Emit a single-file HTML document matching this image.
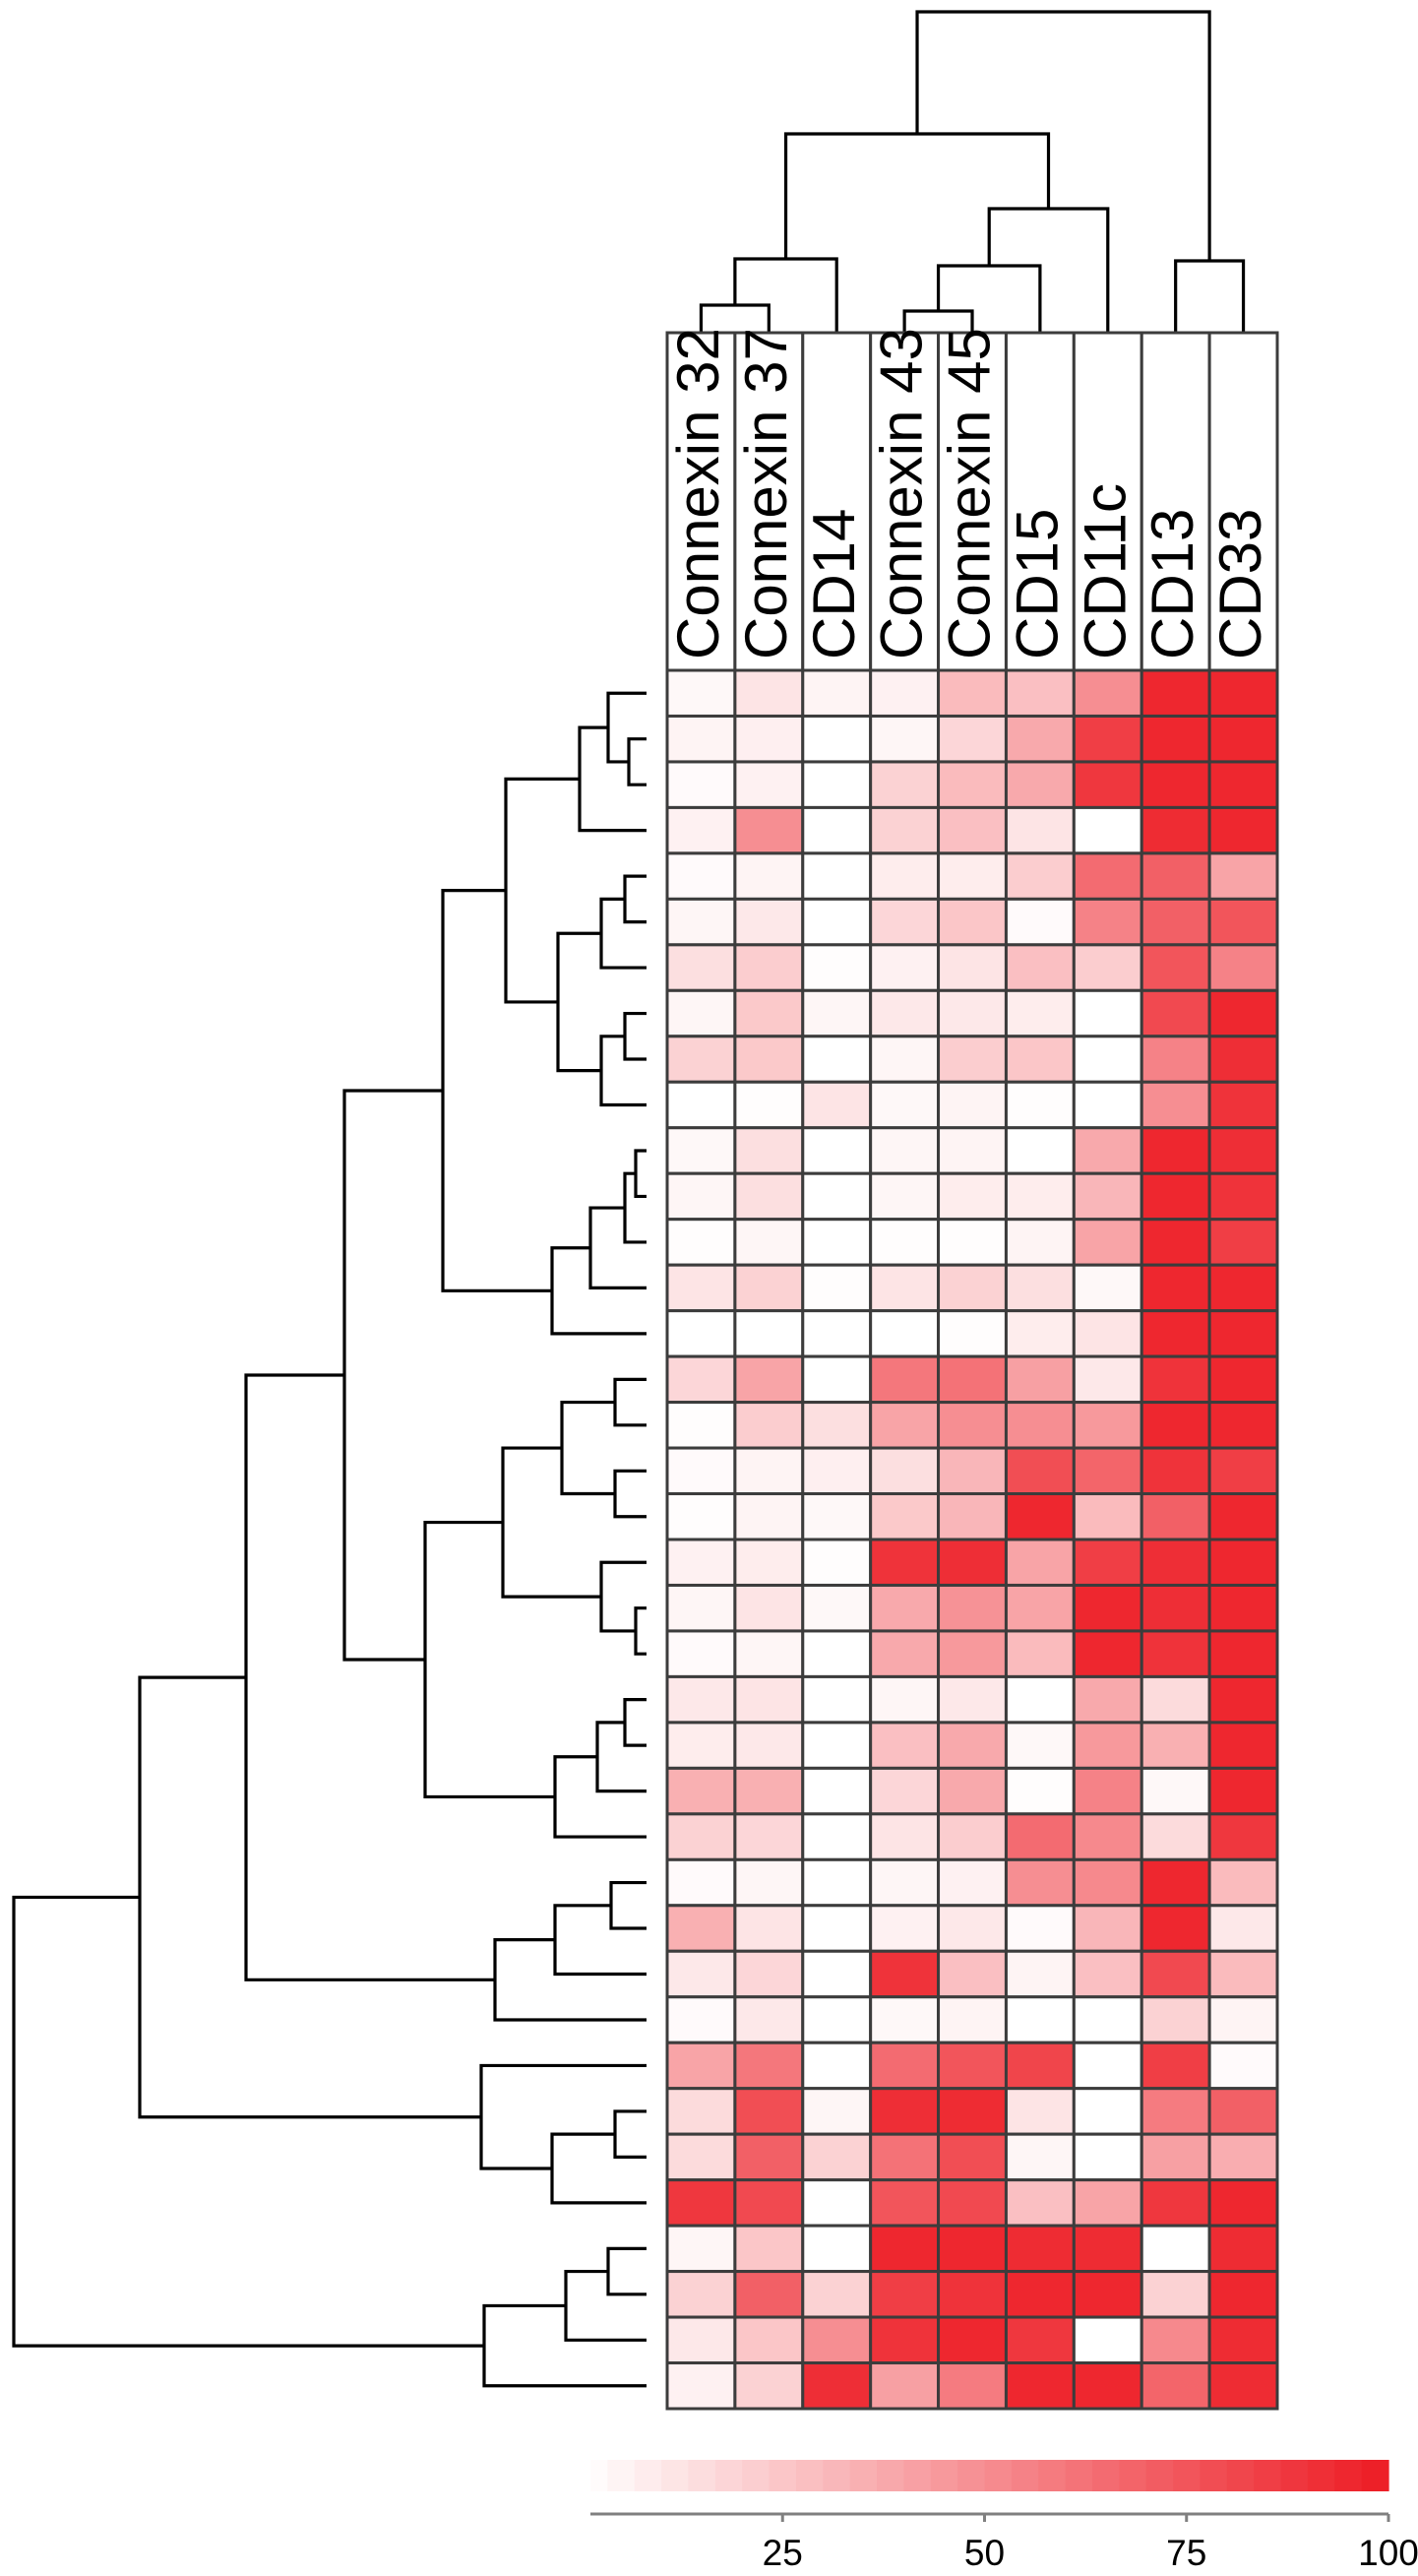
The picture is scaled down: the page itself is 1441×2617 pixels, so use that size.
<!DOCTYPE html>
<html><head><meta charset="utf-8"><style>
html,body{margin:0;padding:0;background:#fff;}
svg{display:block;}
text{font-family:"Liberation Sans",Arial,sans-serif;}
</style></head>
<body>
<svg id="chart" width="1441" height="2617" viewBox="0 0 1441 2617" xmlns="http://www.w3.org/2000/svg">
<g id="row-dendro"></g>
<g id="col-dendro"></g>
<g id="header"></g>
<g id="cells"></g>
<g id="legend"></g>
</svg>
<script>
const columns = ["Connexin 32","Connexin 37","CD14","Connexin 43","Connexin 45","CD15","CD11c","CD13","CD33"];
const values = [
[3,12,5,6,30,28,50,95,95],
[5,7,0,4,18,38,85,95,95],
[2,6,0,20,30,38,88,95,95],
[6,50,0,20,28,12,0,93,95],
[2,5,0,8,8,22,65,70,40],
[4,10,0,18,25,2,55,70,75],
[14,22,1,6,12,28,22,75,55],
[4,24,4,10,10,8,0,80,95],
[20,24,0,4,22,25,0,55,92],
[0,1,12,3,5,1,0,50,90],
[3,14,0,4,5,0,38,95,92],
[4,14,0,4,8,8,32,95,90],
[1,4,0,1,1,5,40,95,85],
[12,20,1,12,20,14,3,95,95],
[0,0,0,0,1,8,12,95,95],
[18,40,0,60,62,42,10,90,95],
[1,22,14,40,50,50,45,95,95],
[2,5,7,14,32,78,68,90,85],
[1,5,3,24,32,95,30,70,95],
[6,8,1,90,92,40,85,92,95],
[4,12,3,38,48,40,95,92,95],
[2,4,0,38,45,30,95,90,95],
[10,12,0,4,10,0,38,16,95],
[8,10,0,28,38,3,45,35,95],
[35,35,0,18,38,1,55,3,95],
[20,18,0,12,22,65,52,16,88],
[2,4,0,4,6,50,52,95,30],
[35,12,0,6,10,2,32,95,10],
[10,18,0,90,28,5,28,80,30],
[2,10,0,3,5,0,0,20,5],
[40,60,0,65,75,82,0,85,2],
[16,78,4,92,93,12,0,58,70],
[16,70,20,62,78,4,0,42,36],
[88,80,0,75,80,28,40,88,95],
[4,25,0,95,95,93,93,0,93],
[20,70,20,85,90,95,95,20,95],
[10,25,50,90,95,88,0,52,93],
[6,20,92,42,58,95,95,68,93]
];
// Row dendrogram merges: leaf index >=0, node k referenced as -(k+1); heights = distance from leaf ends
const rowMergeA = [1,-1,-2,4,-4,7,-6,-5,-3,10,-10,-11,-12,-9,15,17,-15,20,19,-17,22,-21,-22,-20,-14,26,-26,-27,-25,31,-30,30,-29,34,-34,-35,-33];
const rowMergeB = [2,0,3,5,6,8,9,-7,-8,11,12,13,14,-13,16,18,-16,21,-18,-19,23,24,25,-23,-24,27,28,29,-28,32,33,-31,-32,35,36,37,-36];
const rowMergeH = [18,39,68,22,46,22,46,90,143,11,22,57,96,207,32,32,86,11,46,146,22,50,93,225,307,36,93,154,407,32,96,168,515,39,82,165,643];
const colMergeA = [0,-1,3,-3,-4,-2,7,-6];
const colMergeB = [1,2,4,5,6,-5,8,-7];
const colMergeH = [28,75,22,68,126,202,73,326];
const legendTicks = [25,50,75,100];

const NS="http://www.w3.org/2000/svg";
const gx0=678, gx1=1298, gy0=681, gy1=2447, hy0=338;
const cw=(gx1-gx0)/columns.length, rh=(gy1-gy0)/values.length;
function el(t,a,p){const e=document.createElementNS(NS,t);for(const k in a)e.setAttribute(k,a[k]);p.appendChild(e);return e;}
function col(v){const t=Math.max(0,Math.min(100,v))/100;return `rgb(${Math.round(255-18*t)},${Math.round(255-227*t)},${Math.round(255-219*t)})`;}
const xCol=i=>gx0+cw*(i+0.5), yRow=i=>gy0+rh*(i+0.5);

const cells=document.getElementById('cells');
values.forEach((r,i)=>r.forEach((v,j)=>{
  const c=el('rect',{x:gx0+cw*j,y:gy0+rh*i,width:cw,height:rh,fill:col(v),stroke:'#3c3c3c','stroke-width':3},cells);
  
  
}));
const hd=document.getElementById('header');
columns.forEach((n,j)=>{
  const r=el('rect',{x:gx0+cw*j,y:hy0,width:cw,height:gy0-hy0,fill:'#fff',stroke:'#3c3c3c','stroke-width':3},hd);
  
  
  const x=gx0+cw*j+52, y=670;
  const t=el('text',{x:x,y:y,transform:`rotate(-90 ${x} ${y})`,'font-size':60,fill:'#000'},hd);
  t.textContent=n;
  
  
});
function drawDendro(A,B,H,pos,base,dir,g,name){
  const np=[],nh=[];
  const P=c=>c>=0?pos(c):np[-c-1], Hh=c=>c>=0?0:nh[-c-1];
  for(let k=0;k<A.length;k++){
    const pa=P(A[k]),pb=P(B[k]),ha=Hh(A[k]),hb=Hh(B[k]),h=H[k];
    np[k]=(pa+pb)/2;nh[k]=h;
    let d;
    if(dir==='left'){
      d=`M${base-ha},${pa}H${base-h}V${pb}H${base-hb}`;
    }else{
      d=`M${pa},${base-ha}V${base-h}H${pb}V${base-hb}`;
    }
    const p=el('path',{d:d,fill:'none',stroke:'#000','stroke-width':3.2},g);
    
    
  }
}
drawDendro(rowMergeA,rowMergeB,rowMergeH,yRow,657,'left',document.getElementById('row-dendro'),'row-dendrogram-branch');
drawDendro(colMergeA,colMergeB,colMergeH,xCol,hy0,'top',document.getElementById('col-dendro'),'column-dendrogram-branch');
const lg=document.getElementById('legend');
const lx=v=>590+v*8.21;
const steps=30;
for(let s=0;s<steps;s++){
  const v0=s*100/steps;
  const x0=Math.max(600,lx(v0)), x1=lx(v0+100/steps);
  const r=el('rect',{x:x0,y:2499,width:x1-x0+0.6,height:32,fill:col(v0+100/steps/2)},lg);
  
  
}
const ax=el('line',{x1:600,x2:lx(100),y1:2554,y2:2554,stroke:'#808080','stroke-width':3},lg);


legendTicks.forEach(v=>{
  const tk=el('line',{x1:lx(v),x2:lx(v),y1:2554,y2:2562,stroke:'#808080','stroke-width':3},lg);
  
  
  const t=el('text',{x:lx(v),y:2606,'font-size':37,'text-anchor':'middle',fill:'#000'},lg);
  t.textContent=v;
  
  
});
</script>
</body></html>
